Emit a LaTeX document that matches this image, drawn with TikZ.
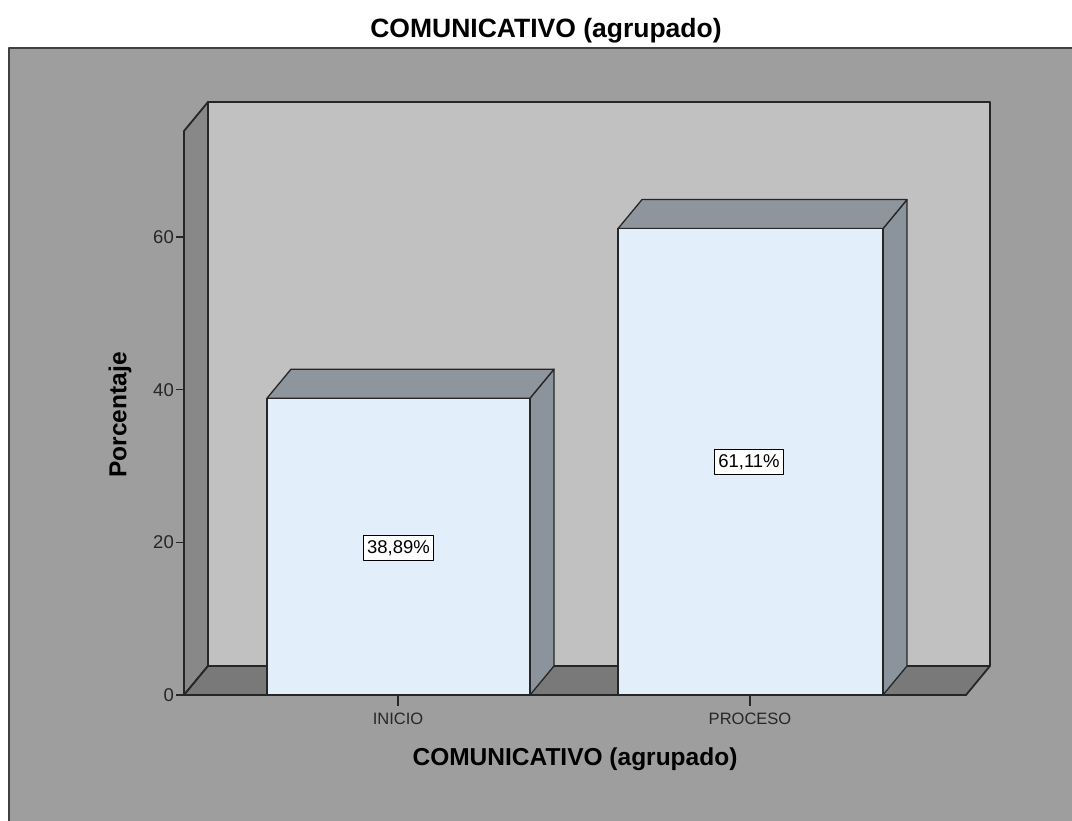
\documentclass[tikz,border=0pt]{standalone}
\usepackage{fontspec}
\setmainfont{Liberation Sans}
\usetikzlibrary{positioning}
\definecolor{panelgray}{RGB}{158,158,158}
\definecolor{wallgray}{RGB}{193,193,193}
\definecolor{leftgray}{RGB}{136,136,136}
\definecolor{floorgray}{RGB}{121,121,121}
\definecolor{bartop}{RGB}{143,149,157}
\definecolor{barside}{RGB}{139,147,157}
\definecolor{barblue}{RGB}{226,238,250}

\begin{document}
\begin{tikzpicture}
[x=1pt,y=-1pt,line join=round,
 wall/.style={draw=black!85,line width=1.8pt},
 bar/.style={draw=black!85,line width=1.3pt},
 tick/.style={draw=black!85,line width=1.1pt},
 valbox/.style={draw=black,fill=white,line width=1pt,inner xsep=4pt,inner ysep=5pt,font=\fontsize{18.5}{20}\selectfont},
 ticklab/.style={font=\fontsize{18.5}{20}\selectfont,text=black!85},
 catlab/.style={font=\fontsize{16.5}{18}\selectfont,text=black!85},
 axtitle/.style={font=\bfseries\fontsize{24.5}{27}\selectfont},]

\useasboundingbox[fill=white] (0,0) rectangle (1072,821);

% outer panel
\fill[panelgray] (9,48) rectangle (1072,821);
\draw[black!75,line width=1.5pt] (9,821) -- (9,48) -- (1072,48);
\node (title) at (546,31) {\bfseries\fontsize{26.5}{30}\selectfont COMUNICATIVO (agrupado)};

% walls and floor
\fill[wallgray] (208,102) rectangle (990,666);
\filldraw[fill=leftgray,wall] (184,695) -- (184,131) -- (208,102) -- (208,666) -- cycle;
\filldraw[fill=floorgray,wall] (184,695) -- (208,666) -- (990,666) -- (966,695) -- cycle;
\draw[wall] (208,666) -- (208,102) -- (990,102) -- (990,666);

% bars
\foreach \xa/\xb/\t in {267/530/398.2,618/883/228.6}{
  \filldraw[fill=barside,bar] (\xb,\t) -- (\xb+24,\t-29) -- (\xb+24,666) -- (\xb,695) -- cycle;
  \filldraw[fill=bartop,bar] (\xa,\t) -- (\xa+24,\t-29) -- (\xb+24,\t-29) -- (\xb,\t) -- cycle;
  \filldraw[fill=barblue,bar] (\xa,695) rectangle (\xb,\t);
}
\node[valbox] (v1) at (398.5,548) {38,89\%};
\node[valbox] (v2) at (749,462) {61,11\%};

% axes
\draw[wall] (184,131) -- (184,695) -- (966,695);
\foreach \v in {0,20,40,60}{
  \draw[tick] (176,695-7.633*\v) -- (184,695-7.633*\v);
  \node[ticklab,anchor=east,inner sep=1pt] (y\v) at (175,695-7.633*\v) {\v};
}
\draw[tick] (398,695) -- (398,706);
\draw[tick] (750,695) -- (750,706);
\node[catlab] (c1) at (398,719) {INICIO};
\node[catlab] (c2) at (750,719) {PROCESO};

\node[axtitle] (xtitle) at (575,759) {COMUNICATIVO (agrupado)};
\node[axtitle,rotate=90] (ytitle) at (120,415) {Porcentaje};

\end{tikzpicture}
\end{document}
